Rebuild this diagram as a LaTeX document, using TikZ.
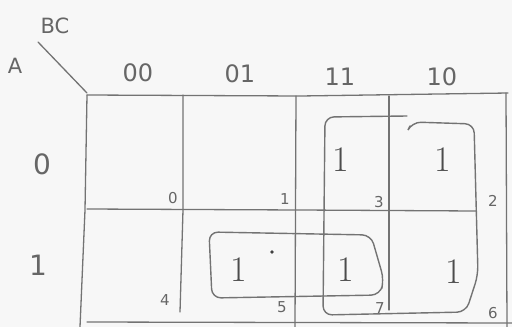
\documentclass[tikz,border=0pt]{standalone}
\usepackage{fontspec}
\setsansfont{DejaVu Sans}
\begin{document}
\begin{tikzpicture}[x=1pt,y=-1pt,
  pen/.style={draw=black!55, line width=1.3pt, line cap=round, line join=round},
  loopline/.style={draw=black!55, line width=1.4pt, rounded corners=9pt, line cap=round},
  hdr/.style={text=black!60, font=\sffamily\fontsize{24}{24}\selectfont, inner sep=0pt},
  rowlbl/.style={text=black!60, font=\sffamily\fontsize{28}{28}\selectfont, inner sep=0pt},
  idx/.style={text=black!60, font=\sffamily\fontsize{15}{15}\selectfont, inner sep=0pt},
  one/.style={text=black!70, font=\fontsize{36}{36}\selectfont, inner sep=0pt},
  varlbl/.style={text=black!60, font=\sffamily\fontsize{21}{21}\selectfont, inner sep=0pt}]
\useasboundingbox (0,0) rectangle (512,327);
\fill[black!3] (0,0) rectangle (512,327);

% corner labels and diagonal
\node[varlbl] (bc) at (55,26) {BC};
\node[varlbl] (a) at (15,66) {A};
\coordinate (dgA) at (38,42);
\coordinate (dgB) at (87,93);
\draw[pen] (dgA) -- (dgB);

% column headers
\node[hdr] (h00) at (138,73) {00};
\node[hdr] (h01) at (240,74) {01};
\node[hdr] (h11) at (340,77) {11};
\node[hdr] (h10) at (442,77) {10};

% row headers
\node[rowlbl] (r0) at (42,164) {0};
\node[rowlbl] (r1) at (38,265) {1};

% grid
\draw[pen] (87,95) -- (300,96) -- (508,93);
\draw[pen] (87,95) -- (85,210) -- (80,327);
\draw[pen] (183,95) -- (183,210) -- (180,312);
\draw[pen] (296,96) -- (295,327);
\draw[pen] (389,96) -- (389,310);
\draw[pen] (506,93) -- (507,327);
\draw[pen] (87,209) -- (300,210) -- (476,211);
\draw[pen] (87,322) -- (512,323);

% cell indices
\node[idx] (c0) at (173,198) {0};
\node[idx] (c1) at (285,199) {1};
\node[idx] (c3) at (379,202) {3};
\node[idx] (c2) at (493,201) {2};
\node[idx] (c4) at (165,300) {4};
\node[idx] (c5) at (282,307) {5};
\node[idx] (c7) at (380,308) {7};
\node[idx] (c6) at (493,313) {6};

% ones
\node[one] (m3) at (341,160) {1};
\node[one] (m2) at (443,160) {1};
\node[one] (m5) at (239,270) {1};
\node[one] (m7) at (346,270) {1};
\node[one] (m6) at (454,272) {1};

% stray dot
\fill[black!75] (272,252) circle (1.8pt);

% groupings
\draw[loopline] (407,116) -- (325,117) -- (323,315) -- (466,312) -- (478,275) -- (474,124) -- (412,122) -- (410,126);
\draw[loopline] (209,232) -- (371,235) -- (384,280) -- (380,295) -- (212,298) -- cycle;
\end{tikzpicture}
\end{document}
